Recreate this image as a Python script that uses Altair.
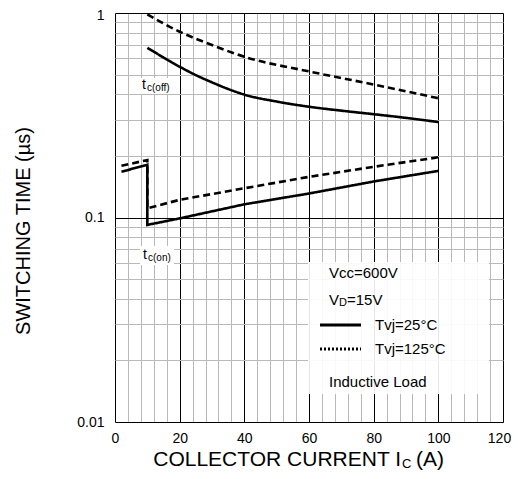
import altair as alt
import pandas as pd

FONT = "Liberation Sans"

# ---- data ----
IC_OFF_25 = [10, 15, 20, 25, 30, 35, 40, 50, 60, 70, 80, 90, 100]
T_OFF_25 = [0.676, 0.606, 0.546, 0.497, 0.458, 0.425, 0.399, 0.369, 0.348, 0.333, 0.320, 0.307, 0.293]

IC_OFF_125 = [10, 15, 20, 30, 40, 60, 80, 100]
T_OFF_125 = [0.985, 0.889, 0.81, 0.697, 0.611, 0.518, 0.447, 0.383]

IC_ON_25 = [2, 10, 10, 20, 40, 60, 80, 100]
T_ON_25 = [0.1675, 0.181, 0.092, 0.099, 0.116, 0.131, 0.150, 0.169]

IC_ON_125 = [2, 10, 10, 20, 40, 60, 80, 100]
T_ON_125 = [0.179, 0.191, 0.111, 0.122, 0.139, 0.158, 0.177, 0.197]

X_TICKS = list(range(0, 121, 4))
Y_TICKS = [0.01, 0.02, 0.03, 0.04, 0.05, 0.06, 0.07, 0.08, 0.09,
           0.1, 0.2, 0.3, 0.4, 0.5, 0.6, 0.7, 0.8, 0.9, 1]
Y_LABELS = {0.01: "0.01", 0.1: "0.1", 1: "1"}


def table(series):
    rows = []
    for name, style, xs, ys in series:
        for i, (x, y) in enumerate(zip(xs, ys)):
            rows.append({"series": name, "style": style, "ic": x, "t": y, "ord": i})
    return pd.DataFrame(rows)


df_off = table([("off25", "25", IC_OFF_25, T_OFF_25), ("off125", "125", IC_OFF_125, T_OFF_125)])
df_on = table([("on25", "25", IC_ON_25, T_ON_25), ("on125", "125", IC_ON_125, T_ON_125)])

ylab_expr = " : ".join(
    [f"datum.value === {k} ? '{v}'" for k, v in Y_LABELS.items()]
) + " : ''"

MINOR = "#b9b9b9"

x_axis = alt.Axis(
    values=X_TICKS, title=None, ticks=False, domain=False,
    labelExpr="datum.value % 20 === 0 ? datum.label : ''",
    labelFlush=False, labelOverlap=False, labelFontSize=14, labelFont=FONT,
    labelColor="black", labelPadding=9,
    labelOffset={"condition": {"test": "datum.value === 120", "value": -4}, "value": 0},
    gridColor={"condition": {"test": "datum.value % 20 === 0", "value": "#000000"}, "value": MINOR},
    gridWidth=1, gridOpacity=1,
)
y_axis = alt.Axis(
    values=Y_TICKS, title=None, ticks=False, domain=False,
    labelExpr=ylab_expr, labelOverlap=False, labelFlush=False,
    labelFontSize=14, labelFont=FONT, labelColor="black", labelPadding=11,
    labelOffset={"condition": {"test": "datum.value === 1", "value": 2}, "value": 0},
    gridColor={"condition": {"test": "datum.value === 0.1 || datum.value === 1 || datum.value === 0.01", "value": "#000000"}, "value": MINOR},
    gridWidth=1, gridOpacity=1,
)

X_ENC = alt.X("ic:Q", scale=alt.Scale(domain=[0, 120], nice=False, zero=False), axis=x_axis)
Y_ENC = alt.Y("t:Q", scale=alt.Scale(type="log", domain=[0.01, 1], nice=False), axis=y_axis)
DASH = alt.StrokeDash("style:N", scale=alt.Scale(domain=["25", "125"], range=[[1, 0], [7, 4]]), legend=None)

lines_off = alt.Chart(df_off).mark_line(color="black", strokeWidth=2.6, interpolate="monotone").encode(
    x=X_ENC, y=Y_ENC, detail="series:N", order="ord:Q", strokeDash=DASH,
)
lines_on = alt.Chart(df_on).mark_line(color="black", strokeWidth=2.6).encode(
    x=X_ENC, y=Y_ENC, detail="series:N", order="ord:Q", strokeDash=DASH,
)

DUMMY = pd.DataFrame({"a": [0]})
OX, OY = 115, 13  # page position of plot origin


def txt(text, x, y, size, align="left", baseline="middle", angle=0):
    return alt.Chart(DUMMY).mark_text(
        text=text, fontSize=size, align=align, baseline=baseline, angle=angle,
        font=FONT, color="black"
    ).encode(x=alt.value(x - OX), y=alt.value(y - OY))


def box(x1, y1, x2, y2, op=0.9):
    return alt.Chart(DUMMY).mark_rect(color="white", opacity=op).encode(
        x=alt.value(x1 - OX), x2=alt.value(x2 - OX), y=alt.value(y1 - OY), y2=alt.value(y2 - OY)
    )


def seg(x1, x2, y, dash):
    return alt.Chart(DUMMY).mark_rule(color="black", strokeWidth=3, strokeDash=dash).encode(
        x=alt.value(x1 - OX), x2=alt.value(x2 - OX), y=alt.value(y - OY)
    )


layers = [
    box(308, 262, 489, 394, 0.9),
    box(139, 78, 171, 94, 1),
    box(140, 246, 174, 265, 1),
    lines_off,
    lines_on,
    # curve labels
    txt("t", 142, 89, 14, baseline="alphabetic"),
    txt("c(off)", 147, 91, 10, baseline="alphabetic"),
    txt("t", 143, 259, 14, baseline="alphabetic"),
    txt("c(on)", 148, 261, 10, baseline="alphabetic"),
    # legend
    txt("Vcc=600V", 329, 273, 15),
    txt("V", 329, 300, 15),
    txt("D", 339, 303, 11),
    txt("=15V", 347, 300, 15),
    seg(320, 361, 325, [1, 0]),
    txt("Tvj=25°C", 375, 325, 15),
    seg(320, 361, 349, [2, 2]),
    txt("Tvj=125°C", 375, 349, 15),
    txt("Inductive Load", 329, 382, 15),
    # axis titles
    txt("SWITCHING TIME (µs)", 24, 231, 20, align="center", angle=270),
    txt("COLLECTOR CURRENT I", 401, 466, 21, align="right", baseline="alphabetic"),
    txt("C", 402, 468, 13, baseline="alphabetic"),
    txt("(A)", 416, 466, 21, baseline="alphabetic"),
]

chart = alt.layer(*layers).properties(
    width=388, height=409,
    autosize=alt.AutoSizeParams(type="none"),
    padding={"left": 107, "top": 5, "right": 8, "bottom": 49},
).configure_view(stroke="black", strokeWidth=2.5).configure(background="white")

chart.save("out.html", embed_options={"renderer": "svg", "actions": False})
